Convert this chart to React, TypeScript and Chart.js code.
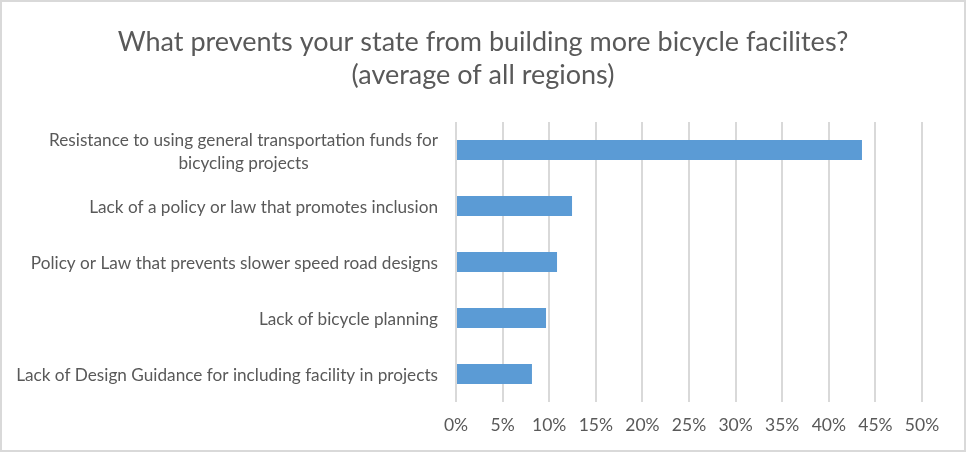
import React, { useEffect, useRef } from "react";
import { Chart, registerables } from "chart.js";

Chart.register(...registerables);

const categories: string[][] = [
  ["Resistance to using general transportation funds for", "bicycling projects"],
  ["Lack of a policy or law that promotes inclusion"],
  ["Policy or Law that prevents slower speed road designs"],
  ["Lack of bicycle planning"],
  ["Lack of Design Guidance for including facility in projects"],
];
const values: number[] = [43.56, 12.45, 10.84, 9.66, 8.15];
const titleLines: string[] = [
  "What prevents your state from building more bicycle facilites?",
  "(average of all regions)",
];
const xMin = 0;
const xMax = 50;
const xStep = 5;

const FONT = "Lato, 'Open Sans', sans-serif";
const TEXT = "#595959";
const GRID = "#D9D9D9";
const BAR = "#5B9BD5";
const LABEL_SIZE = 17.2;
const TITLE_SIZE = 27;

const framePlugin = {
  id: "frame",
  beforeDraw(chart: any) {
    const { ctx, width, height } = chart;
    ctx.save();
    ctx.fillStyle = "#FFFFFF";
    ctx.fillRect(0, 0, width, height);
    ctx.restore();
  },
  afterDraw(chart: any) {
    const { ctx, width, height } = chart;
    ctx.save();
    ctx.fillStyle = GRID;
    ctx.fillRect(0, 0, width, 2);
    ctx.fillRect(0, height - 2, width, 2);
    ctx.fillRect(0, 0, 2, height);
    ctx.fillRect(width - 2, 0, 2, height);
    ctx.restore();
  },
};

const titlePlugin = {
  id: "centerTitle",
  afterDraw(chart: any) {
    const { ctx, width } = chart;
    ctx.save();
    ctx.font = `${TITLE_SIZE}px ${FONT}`;
    ctx.fillStyle = TEXT;
    ctx.textAlign = "center";
    ctx.textBaseline = "middle";
    titleLines.forEach((l, i) => {
      ctx.fillText(l, width / 2, 42 + i * 33);
    });
    ctx.restore();
  },
};

const yLabelPlugin = {
  id: "yLabels",
  afterDraw(chart: any) {
    const { ctx, chartArea } = chart;
    const y = chart.scales.y;
    ctx.save();
    ctx.font = `${LABEL_SIZE}px ${FONT}`;
    ctx.fillStyle = TEXT;
    ctx.textBaseline = "middle";
    ctx.textAlign = "center";
    const right = chartArea.left - 18;
    const lh = 23;
    categories.forEach((lines, i) => {
      const cy = y.getPixelForValue(i);
      const bw = Math.max(...lines.map((l) => ctx.measureText(l).width));
      lines.forEach((l, j) => {
        const yy = cy + 1.5 + (j - (lines.length - 1) / 2) * lh;
        ctx.fillText(l, right - bw / 2, yy);
      });
    });
    ctx.restore();
  },
};

export default function App() {
  const ref = useRef<HTMLCanvasElement | null>(null);
  useEffect(() => {
    if (!ref.current) return;
    const chart = new Chart(ref.current, {
      type: "bar",
      data: {
        labels: categories.map((c) => c.join(" ")),
        datasets: [
          {
            data: values,
            backgroundColor: BAR,
            borderWidth: 0,
            categoryPercentage: 1,
            barPercentage: 20 / 56,
          },
        ],
      },
      options: {
        indexAxis: "y",
        responsive: false,
        animation: false,
        devicePixelRatio: 1,
        layout: { padding: { left: 0, right: 44, top: 122, bottom: 0 } },
        plugins: {
          legend: { display: false },
          tooltip: { enabled: false },
          title: { display: false },
        },
        scales: {
          x: {
            type: "linear",
            min: xMin,
            max: xMax,
            ticks: {
              stepSize: xStep,
              color: TEXT,
              font: { family: FONT, size: 17.5 },
              padding: 13,
              callback: (v: any) => `${v}%`,
            },
            grid: { color: GRID, lineWidth: 2, drawTicks: false },
            border: { display: false },
            afterFit: (s: any) => {
              s.height = 50;
            },
          },
          y: {
            ticks: { display: false },
            grid: { display: false },
            border: { display: false },
            afterFit: (s: any) => {
              s.width = 456;
            },
          },
        },
      },
      plugins: [framePlugin, titlePlugin, yLabelPlugin],
    });
    return () => chart.destroy();
  }, []);
  return (
    <div style={{ position: "fixed", left: 0, top: 0, width: 966, height: 452 }}>
      <canvas ref={ref} width={966} height={452} />
    </div>
  );
}
